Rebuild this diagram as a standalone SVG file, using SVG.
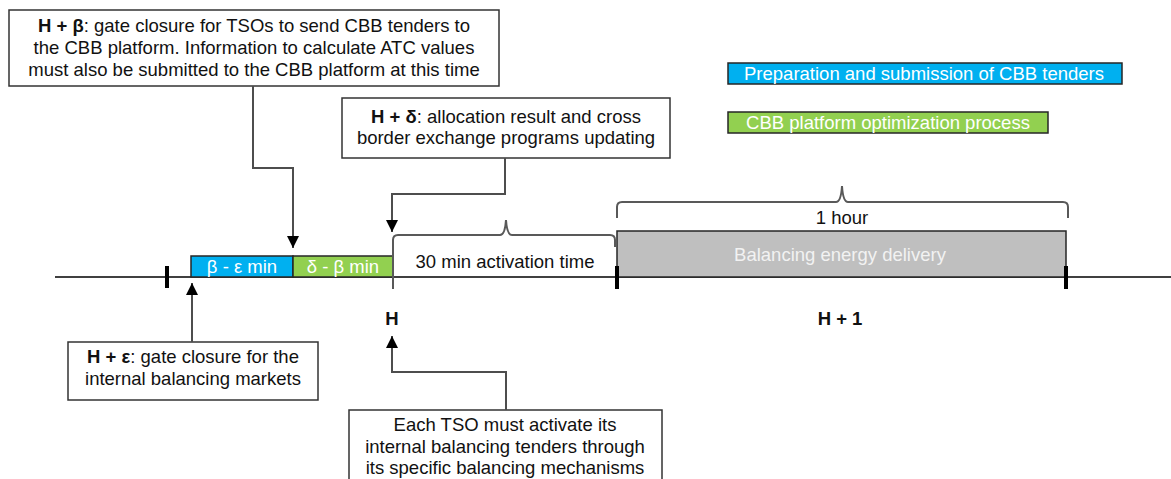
<svg xmlns="http://www.w3.org/2000/svg" width="1171" height="479" viewBox="0 0 1171 479">
<defs>
<style>
text{font-family:"Liberation Sans",Arial,sans-serif;font-size:18.5px;fill:#111;text-anchor:middle}
.b{font-weight:bold}
.w{fill:#ffffff}
.lg{fill:#f2f2f2}
.box{fill:#fff;stroke:#333;stroke-width:1.5}
.conn{fill:none;stroke:#4d4d4d;stroke-width:2}
.brace{fill:none;stroke:#595959;stroke-width:2}
.tick{stroke:#000;stroke-width:4}
.seg{stroke:#262626;stroke-width:1.5}
</style>
<marker id="ah" markerUnits="userSpaceOnUse" markerWidth="12" markerHeight="14" refX="12" refY="6" orient="auto" viewBox="0 0 12 12">
<path d="M0,0 L12,6 L0,12 z" fill="#000"/>
</marker>
</defs>
<rect width="1171" height="479" fill="#fff"/>

<g id="timeline">
<line x1="55" y1="277" x2="1171" y2="277" stroke="#404040" stroke-width="2"/>
<rect id="seg-beta" class="seg" x="191" y="256" width="102" height="21" fill="#00b0f0"/>
<text class="w" x="242" y="273">β - ε min</text>
<rect id="seg-delta" class="seg" x="293" y="256" width="100" height="21" fill="#92d050"/>
<text class="w" x="343" y="273">δ - β min</text>
<rect id="delivery" class="seg" x="617" y="231" width="449" height="46" fill="#bfbfbf"/>
<text class="lg" x="840" y="261">Balancing energy delivery</text>
<line class="tick" x1="167" y1="266" x2="167" y2="288"/>
<line class="tick" x1="617" y1="266" x2="617" y2="289"/>
<line class="tick" x1="1066" y1="266" x2="1066" y2="289"/>
<path class="brace" d="M393,289 V240 Q393,235 398,235 H500 Q505,235 506,220 Q507,235 512,235 H610 Q615,235 615,240 V247"/>
<text x="505" y="268">30 min activation time</text>
<path class="brace" d="M617,218 V207 Q617,202 622,202 H836 Q841,202 842,186 Q843,202 848,202 H1063 Q1068,202 1068,207 V218"/>
<text x="842" y="224">1 hour</text>
<text class="b" x="392" y="325">H</text>
<text class="b" x="840" y="325">H + 1</text>
</g>

<g id="legend">
<rect class="seg" x="728" y="63" width="394" height="21" fill="#00b0f0"/>
<text class="w" x="924" y="80">Preparation and submission of CBB tenders</text>
<rect class="seg" x="728" y="112" width="320" height="21" fill="#92d050"/>
<text class="w" x="888" y="129">CBB platform optimization process</text>
</g>

<g id="note-beta">
<rect class="box" x="9" y="10" width="490" height="76"/>
<text x="254" y="32"><tspan class="b">H + β</tspan>: gate closure for TSOs to send CBB tenders to</text>
<text x="254" y="54">the CBB platform. Information to calculate ATC  values</text>
<text x="254" y="76">must also be submitted to the CBB platform at this time</text>
</g>

<g id="note-delta">
<rect class="box" x="342" y="98" width="328" height="60"/>
<text x="506" y="123"><tspan class="b">H + δ</tspan>: allocation result and cross</text>
<text x="506" y="144">border exchange programs updating</text>
</g>

<g id="note-epsilon">
<rect class="box" x="68" y="342" width="250" height="58"/>
<text x="193" y="363"><tspan class="b">H + ε</tspan>: gate closure for the</text>
<text x="193" y="385">internal balancing markets</text>
</g>

<g id="note-tso">
<rect class="box" x="349" y="410" width="313" height="80"/>
<text x="505" y="431">Each TSO must activate its</text>
<text x="505" y="453">internal balancing tenders through</text>
<text x="505" y="474">its specific balancing mechanisms</text>
</g>

<g id="connectors">
<path class="conn" d="M253,86 V168 H293 V248" marker-end="url(#ah)"/>
<path class="conn" d="M505,158 V194 H392 V232" marker-end="url(#ah)"/>
<path class="conn" d="M192,342 V283" marker-end="url(#ah)"/>
<path class="conn" d="M506,410 V372 H392 V336" marker-end="url(#ah)"/>
</g>
</svg>
